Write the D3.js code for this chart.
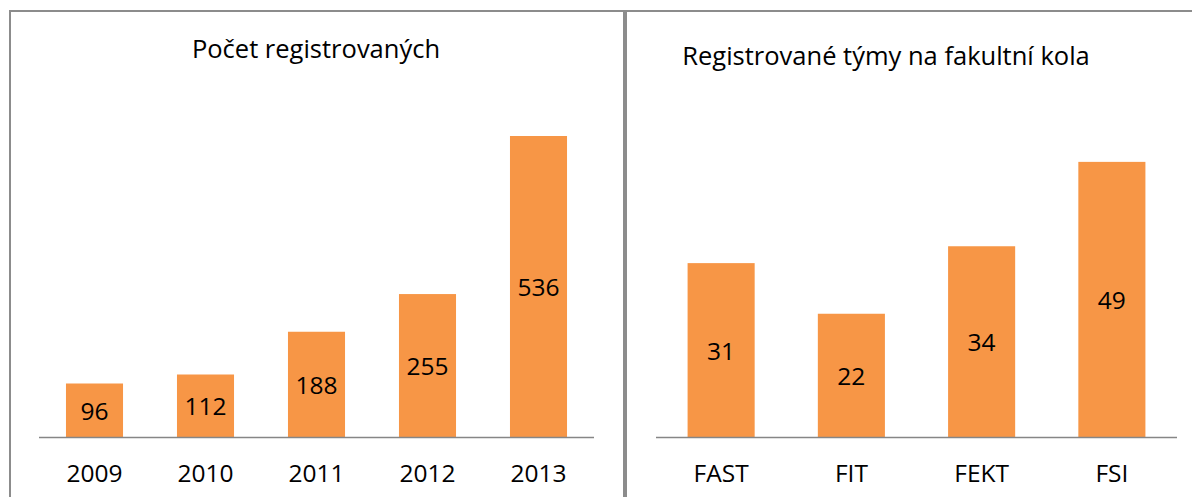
<!DOCTYPE html>
<html>
<head>
<meta charset="utf-8">
<script src="https://cdn.jsdelivr.net/npm/d3@7"></script>
<style>
  body { margin: 0; background: #fff; }
  svg { display: block; font-family: "Open Sans", sans-serif; }
</style>
</head>
<body>
<svg id="chart" width="1192" height="497"></svg>
<script>
// data
const years = ["2009", "2010", "2011", "2012", "2013"];
const registered = [96, 112, 188, 255, 536];

const faculties = ["FAST", "FIT", "FEKT", "FSI"];
const teams = [31, 22, 34, 49];

const orange = "#f79646";
const frameGray = "#8c8c8c";
const font = "'Open Sans', sans-serif";

const svg = d3.select("#chart");

// frame around both panels
svg.append("line").attr("x1", 9).attr("x2", 1192).attr("y1", 11).attr("y2", 11)
  .attr("stroke", frameGray).attr("stroke-width", 2);
svg.append("line").attr("x1", 10).attr("x2", 10).attr("y1", 10).attr("y2", 497)
  .attr("stroke", frameGray).attr("stroke-width", 2);
svg.append("line").attr("x1", 625).attr("x2", 625).attr("y1", 10).attr("y2", 497)
  .attr("stroke", frameGray).attr("stroke-width", 4);

function barChart(opts) {
  const g = svg.append("g");

  const x = d3.scaleBand()
    .domain(opts.cats)
    .range([opts.left, opts.right])
    .paddingInner(opts.pad)
    .paddingOuter(opts.pad / 2);

  const y = d3.scaleLinear()
    .domain([0, opts.max])
    .range([437.5, 100]);

  // title
  g.append("text")
    .attr("x", opts.titleX)
    .attr("y", opts.titleY)
    .attr("text-anchor", "middle")
    .attr("font-size", 25.5)
    .attr("fill", "#000")
    .text(opts.title);

  // bars
  g.selectAll("rect.bar")
    .data(opts.values)
    .join("rect")
    .attr("class", "bar")
    .attr("x", (d, i) => x(opts.cats[i]))
    .attr("width", x.bandwidth())
    .attr("y", d => y(d))
    .attr("height", d => y(0) - y(d))
    .attr("fill", orange);

  // value labels in the middle of the bar
  g.selectAll("text.val")
    .data(opts.values)
    .join("text")
    .attr("class", "val")
    .attr("x", (d, i) => x(opts.cats[i]) + x.bandwidth() / 2)
    .attr("y", d => (y(d) + y(0)) / 2)
    .attr("dy", "0.38em")
    .attr("text-anchor", "middle")
    .attr("font-size", 24.5)
    .attr("fill", "#000")
    .text(d => d);

  // category axis
  const axis = g.append("g")
    .attr("transform", `translate(0,${y(0)})`)
    .call(d3.axisBottom(x).tickSize(0).tickPadding(27));
  axis.select(".domain").attr("stroke", "#868686").attr("stroke-width", 1.5)
    .attr("d", `M${opts.left},0H${opts.right}`);
  axis.selectAll("text")
    .attr("font-family", font)
    .attr("font-size", 24.5)
    .attr("fill", "#000");
}

barChart({
  cats: years, values: registered, max: 600,
  left: 39, right: 594, pad: 0.486,
  title: "Počet registrovaných", titleX: 316, titleY: 58
});

barChart({
  cats: faculties, values: teams, max: 60,
  left: 656, right: 1177, pad: 0.485,
  title: "Registrované týmy na fakultní kola", titleX: 886, titleY: 65
});
</script>
</body>
</html>
